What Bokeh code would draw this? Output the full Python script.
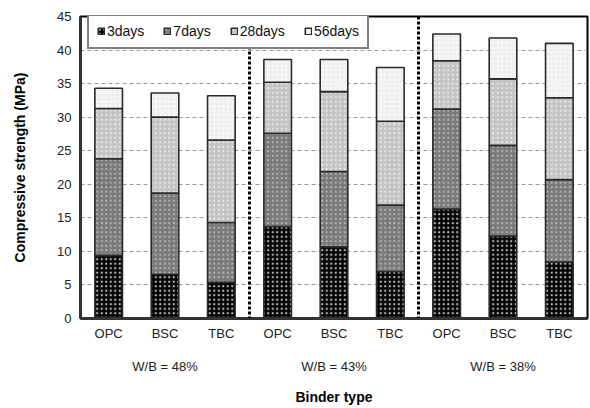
from bokeh.plotting import figure
from bokeh.models import FixedTicker, LinearAxis, Range1d, Span, Legend, LegendItem, ColumnDataSource
from bokeh.embed import file_html
from bokeh.resources import INLINE

wb_groups = ["W/B = 48%", "W/B = 43%", "W/B = 38%"]
binders = ["OPC", "BSC", "TBC"]
ages = ["3days", "7days", "28days", "56days"]

# compressive strength (MPa) at each age, bars in order OPC,BSC,TBC per W/B group
s3 = [9.4, 6.6, 5.4, 13.7, 10.7, 7.0, 16.3, 12.3, 8.4]
s7 = [23.8, 18.7, 14.3, 27.6, 21.9, 16.9, 31.2, 25.8, 20.7]
s28 = [31.3, 30.0, 26.6, 35.2, 33.8, 29.4, 38.4, 35.7, 32.9]
s56 = [34.3, 33.6, 33.2, 38.6, 38.6, 37.4, 42.4, 41.8, 41.0]

FONT = "Liberation Sans"
n = len(wb_groups) * len(binders)
xc = [i + 0.5 for i in range(n)]
labels = [b for g in wb_groups for b in binders]

p = figure(width=590, height=408, x_range=Range1d(0, n), y_range=Range1d(0, 45),
           output_backend="svg", toolbar_location=None,
           min_border_left=80, min_border_right=3, min_border_top=16, min_border_bottom=90)
p.background_fill_color = "white"
p.border_fill_color = "white"
p.outline_line_color = "black"
p.outline_line_width = 2

series = [s3, s7, s28, s56]
fills = ["#050505", "#7a7a7a", "#c4c4c4", "#f0f0f0"]
hatch_cols = ["#bbbbbb", "#b4b4b4", "#e8e8e8", "#fcfcfc"]
renderers = []
prev = [0] * n
for name, vals, fc, hc in zip(ages, series, fills, hatch_cols):
    src = ColumnDataSource(dict(x=xc, top=vals, bottom=prev))
    r = p.vbar(x="x", top="top", bottom="bottom", width=0.49, source=src,
               fill_color=fc, line_color="#2a2a2a", line_width=1.6,
               hatch_pattern="dot", hatch_color=hc, hatch_scale=4.5, hatch_weight=0.55)
    renderers.append(r)
    prev = vals

# group separators
for k in range(1, len(wb_groups)):
    p.add_layout(Span(location=k * len(binders), dimension="height",
                      line_color="black", line_width=3, line_dash="3 2"))

# y axis
p.yaxis.ticker = FixedTicker(ticks=list(range(0, 46, 5)))
p.yaxis.axis_label = "Compressive strength (MPa)"
p.yaxis.axis_label_text_font = FONT
p.yaxis.axis_label_text_font_style = "bold"
p.yaxis.axis_label_text_font_size = "14px"
p.yaxis.axis_label_text_color = "black"
p.yaxis.axis_label_standoff = 26
p.yaxis.major_label_text_font = FONT
p.yaxis.major_label_text_font_size = "13px"
p.yaxis.major_label_text_color = "#222222"
p.yaxis.major_label_standoff = 9
p.yaxis.major_tick_out = 0
p.yaxis.major_tick_in = 0
p.yaxis.major_tick_line_color = None
p.yaxis.minor_tick_line_color = None
p.yaxis.axis_line_color = "#333333"
p.yaxis.axis_line_width = 3

# x axis (binder labels)
p.xaxis.ticker = FixedTicker(ticks=xc)
p.xaxis.major_label_overrides = {x: l for x, l in zip(xc, labels)}
p.xaxis.major_label_text_font = FONT
p.xaxis.major_label_text_font_size = "13px"
p.xaxis.major_label_text_color = "#222222"
p.xaxis.major_label_standoff = 7
p.xaxis.major_tick_out = 0
p.xaxis.major_tick_in = 0
p.xaxis.major_tick_line_color = None
p.xaxis.minor_tick_line_color = None
p.xaxis.axis_line_color = "#333333"
p.xaxis.axis_line_width = 3

# group axis
gx = [len(binders) * (g + 0.5) for g in range(len(wb_groups))]
ax2 = LinearAxis(ticker=FixedTicker(ticks=gx),
                 major_label_overrides={x: l for x, l in zip(gx, wb_groups)})
ax2.axis_line_color = None
ax2.major_tick_out = 0
ax2.major_tick_in = 0
ax2.major_tick_line_color = None
ax2.minor_tick_line_color = None
ax2.major_label_text_font = FONT
ax2.major_label_text_font_size = "13px"
ax2.major_label_text_color = "#222222"
ax2.major_label_standoff = 15
ax2.axis_label = "Binder type"
ax2.axis_label_text_font = FONT
ax2.axis_label_text_font_style = "bold"
ax2.axis_label_text_font_size = "14px"
ax2.axis_label_text_color = "black"
ax2.axis_label_standoff = 12
p.add_layout(ax2, "below")

p.xgrid.grid_line_color = None
p.ygrid.grid_line_color = "#9a9a9a"
p.ygrid.grid_line_dash = "4 3"
p.ygrid.grid_line_width = 1

legend = Legend(items=[LegendItem(label=a, renderers=[r]) for a, r in zip(ages, renderers)],
                orientation="horizontal", location=(7, 269))
legend.label_text_font = FONT
legend.label_text_font_size = "14px"
legend.label_text_color = "#111111"
legend.glyph_width = 8
legend.glyph_height = 8
legend.label_standoff = 2
legend.spacing = 19
legend.padding = 8
legend.margin = 0
legend.label_height = 14
legend.border_line_color = "black"
legend.border_line_width = 2
legend.background_fill_color = "white"
legend.background_fill_alpha = 1
p.add_layout(legend, "center")

open("out.html", "w").write(file_html(p, INLINE))
